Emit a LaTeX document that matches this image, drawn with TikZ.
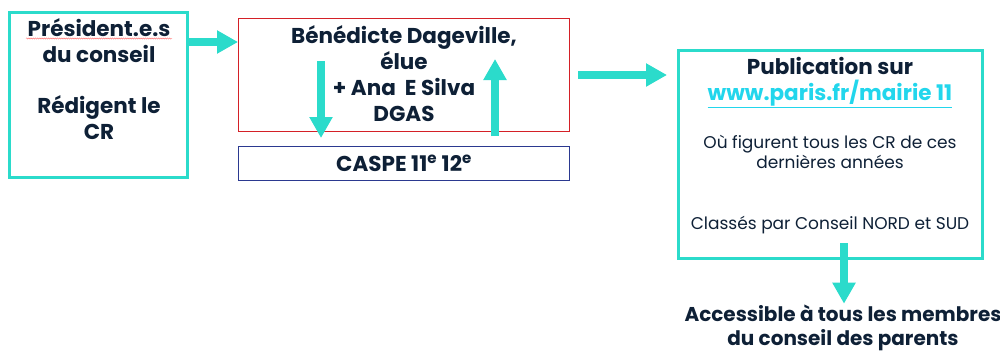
\documentclass[tikz,border=0pt]{standalone}
\usepackage{fontspec}
\setmainfont{Poppins}
\usetikzlibrary{arrows.meta,positioning,decorations.pathmorphing}
\definecolor{turq}{HTML}{2BDBCB}
\definecolor{navy}{HTML}{0E2036}
\definecolor{lien}{HTML}{22D6EC}
\definecolor{boxred}{HTML}{D42027}
\definecolor{boxblue}{HTML}{2B3990}
\tikzset{
  flow/.style={turq, line width=8pt, -{Triangle[length=21pt,width=22pt]}},
  tealbox/.style={draw=turq, line width=3pt, inner sep=0pt},
  thinbox/.style={line width=1pt, inner sep=0pt, minimum width=331pt},
  bigtxt/.style={font=\fontsize{21.5}{26}\selectfont\bfseries, text=navy, align=center, inner sep=0pt, anchor=base},
  smalltxt/.style={font=\fontsize{17}{20}\selectfont, text=navy, align=center, inner sep=0pt, anchor=base}
}
\begin{document}
\begin{tikzpicture}[x=1pt,y=-1pt]
\useasboundingbox (0,0) rectangle (1000,351);
% boxes
\node[tealbox, minimum width=178pt, minimum height=165pt] (pres) at (98.5,95) {};
\node[thinbox, draw=boxred, minimum height=113pt] (elue) at (404,75) {};
\node[thinbox, draw=boxblue, minimum height=34pt] (caspe) at (404,163.5) {};
\node[tealbox, minimum width=304pt, minimum height=208pt] (pub) at (830.5,154.5) {};
% texts (anchored at the last baseline)
\node[bigtxt] (presTxt) at (99,139) {Président.e.s\\du conseil\\[25pt]Rédigent le\\CR};
\draw[red!70, line width=0.3pt, decorate, decoration={snake, amplitude=0.7pt, segment length=2.2pt}]
  (26,38.5) -- (172,38.5);
\node[bigtxt] (elueTxt) at (404,121) {Bénédicte Dageville,\\élue\\+ Ana\ \ E Silva\\DGAS};
\node[bigtxt] (caspeTxt) at (404,171) {CASPE 11\textsuperscript{e} 12\textsuperscript{e}};
\node[bigtxt] (pubTxt) at (830,100) {Publication sur\\{\color{lien}\underline{www.paris.fr/mairie 11}}};
\node[smalltxt] (figTxt) at (830,168) {Où figurent tous les CR de ces\\dernières années};
\node[smalltxt] (classTxt) at (830,229) {Classés par Conseil NORD et SUD};
\node[bigtxt, font=\fontsize{20}{23.5}\selectfont\bfseries] (acces) at (843,345) {Accessible à tous les membres\\du conseil des parents};
% arrows
\draw[flow] ([yshift=-31pt]pres.north east) -- ([yshift=-24pt]elue.north west);
\draw[flow] ([xshift=83pt,yshift=-43pt]elue.north west) -- ([xshift=83pt,yshift=8pt]caspe.north west);
\draw[flow] ([xshift=257pt,yshift=10pt]caspe.north west) -- ([xshift=257pt,yshift=-41pt]elue.north west);
\draw[flow] ([xshift=8pt,yshift=-57pt]elue.north east) -- ([xshift=-10pt,yshift=-26pt]pub.north west);
\draw[flow] ([xshift=13.5pt,yshift=17pt]pub.south) -- ([xshift=1pt,yshift=1pt]acces.north);
\end{tikzpicture}
\end{document}
